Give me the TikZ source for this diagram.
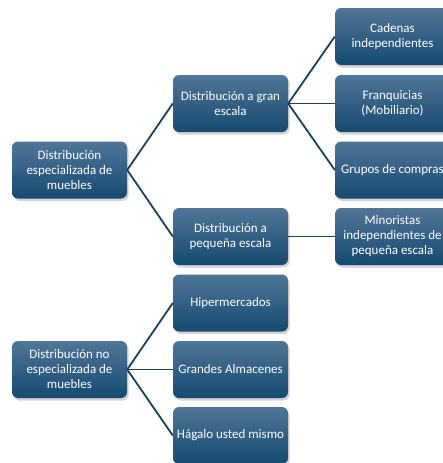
\documentclass[tikz,border=0pt]{standalone}
\usepackage{fontspec}
\setmainfont{Carlito}
\usetikzlibrary{shadows}
\definecolor{boxtop}{RGB}{80,118,152}
\definecolor{boxbot}{RGB}{22,74,112}
\definecolor{linkblue}{RGB}{26,66,96}

\begin{document}
\begin{tikzpicture}[x=1pt,y=-1pt,
  box/.style={rectangle, rounded corners=6pt, minimum width=115pt, minimum height=57pt,
    align=center, inner sep=0pt, top color=boxtop, bottom color=boxbot,
    text=white, font=\fontsize{13}{15}\selectfont,
    drop shadow={shadow xshift=1.5pt, shadow yshift=-2.5pt, opacity=0.35}},
  link/.style={draw=linkblue, line width=1.8pt}]
  \useasboundingbox (0,0) rectangle (443,463);
  % especializada
  \node[box] (esp) at (69.5,170) {Distribución\\especializada de\\muebles};
  \node[box] (gran) at (230.5,103.5) {Distribución a gran\\escala};
  \node[box] (peq) at (230.5,236.5) {Distribución a\\pequeña escala};
  \node[box] (cad) at (392.5,36.5) {Cadenas\\independientes};
  \node[box] (fran) at (392.5,103.5) {Franquicias\\(Mobiliario)};
  \node[box] (grup) at (392.5,170) {Grupos de compras};
  \node[box] (mino) at (392.5,236.5) {Minoristas\\independientes de\\pequeña escala};
  % no especializada
  \node[box] (noesp) at (69.5,369.5) {Distribución no\\especializada de\\muebles};
  \node[box] (hiper) at (230.5,303) {Hipermercados};
  \node[box] (alm) at (230.5,369.5) {Grandes Almacenes};
  \node[box] (hag) at (230.5,435.5) {Hágalo usted mismo};
  % connectors
  \foreach \a/\b in {esp/gran,esp/peq,gran/cad,gran/fran,gran/grup,peq/mino,noesp/hiper,noesp/alm,noesp/hag}
    \draw[link] (\a.east) -- (\b.west);
\end{tikzpicture}
\end{document}
